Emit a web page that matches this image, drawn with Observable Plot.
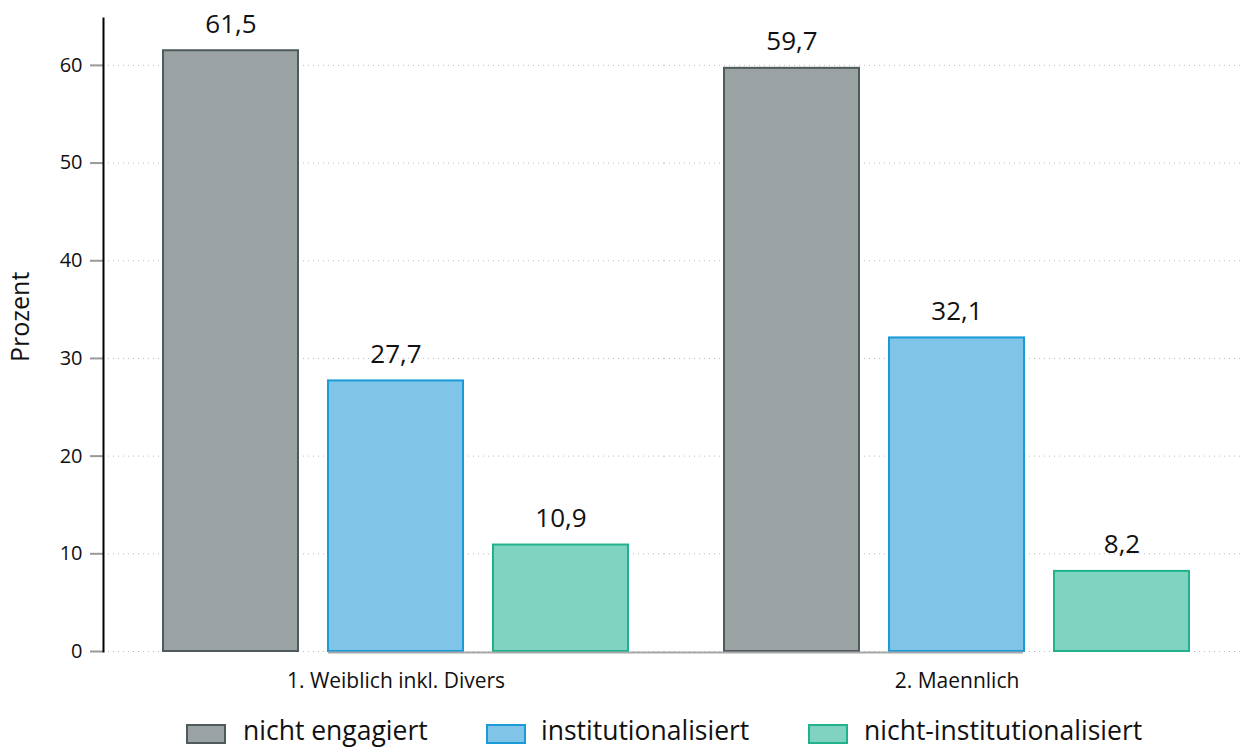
<!DOCTYPE html>
<html>
<head>
<meta charset="utf-8">
<script src="https://cdn.jsdelivr.net/npm/d3@7"></script>
<script src="https://cdn.jsdelivr.net/npm/@observablehq/plot@0.6"></script>
<style>
  html, body { margin: 0; padding: 0; background: #fff; overflow: hidden; }
  #wrap { position: relative; width: 1241px; height: 747px; font-family: "Open Sans", sans-serif; }
  .sw { position: absolute; top: 724px; width: 36px; height: 16px; border: 2px solid; }
  .lt { position: absolute; top: 713px; font-size: 26.5px; line-height: 34px; color: #111; white-space: nowrap; font-family: "Open Sans", sans-serif; }
</style>
</head>
<body>
<div id="wrap"></div>
<script>
const groups = ["1. Weiblich inkl. Divers", "2. Maennlich"];
const series = ["nicht engagiert", "institutionalisiert", "nicht-institutionalisiert"];
const weiblich = [61.5, 27.7, 10.9];
const maennlich = [59.7, 32.1, 8.2];
const yTicks = [0, 10, 20, 30, 40, 50, 60];
const fillColors = ["#9ba2a3", "#80c5e8", "#80d3c0"];
const strokeColors = ["#4f5a5c", "#1a9ad6", "#20b38b"];

const values = [weiblich, maennlich];
const data = [];
groups.forEach((g, gi) => series.forEach((s, si) => data.push({group: g, series: s, value: values[gi][si], si})));
const fmt = v => v.toFixed(1).replace(".", ",");

const chart = Plot.plot({
  width: 1241,
  height: 700,
  marginLeft: 103,
  marginRight: 16,
  marginTop: 18,
  marginBottom: 49,
  style: {fontFamily: "'Open Sans', sans-serif", color: "#111", background: "#fff"},
  fx: {domain: groups, padding: 0, axis: null, label: null},
  x: {domain: series, paddingInner: 0.181, paddingOuter: 0.2835, align: 0.628, axis: null},
  y: {domain: [0, 64.8], axis: null},
  marks: [
    Plot.ruleY(yTicks, {y: d => d, fx: () => groups[0], stroke: "#bbb", strokeDasharray: "1,4"}),
    Plot.ruleY(yTicks, {y: d => d, fx: () => groups[1], stroke: "#bbb", strokeDasharray: "1,4", insetRight: -16}),
    Plot.barY(data, {fx: "group", x: "series", y: "value", fill: d => fillColors[d.si], stroke: d => strokeColors[d.si], strokeWidth: 2}),
    Plot.ruleY([0], {y: d => d, fx: () => groups[0], x1: () => series[1], x2: () => series[2], insetRight: -395, stroke: "#a8a8a8", strokeWidth: 2, dy: 1}),
    Plot.text(data, {fx: "group", x: "series", y: "value", text: d => fmt(d.value), dy: -18, lineAnchor: "bottom", fontSize: 26, fill: "#111"}),
    Plot.text(groups, {fx: d => d, x: () => series[1], y: () => 0, text: d => d, dy: 30, fontSize: 21, fill: "#111"}),
    Plot.axisY({ticks: yTicks, tickSize: 13, tickFormat: () => "", stroke: "#999", strokeWidth: 2, label: null}),
    Plot.text(yTicks, {fx: () => groups[0], y: d => d, text: d => String(d), frameAnchor: "left", textAnchor: "end", dx: -21, fontSize: 20, fill: "#111"}),
    Plot.frame({anchor: "left", facetAnchor: "left", stroke: "#000", strokeWidth: 2}),
    Plot.text(["Prozent"], {fx: () => groups[0], frameAnchor: "left", rotate: -90, dx: -83, dy: 27, fontSize: 25, fill: "#111", text: d => d})
  ]
});

const wrap = document.getElementById("wrap");
wrap.appendChild(chart);

const swLeft = [186, 486, 808];
const txLeft = [243, 541, 864];
series.forEach((s, i) => {
  const sw = document.createElement("div");
  sw.className = "sw";
  sw.style.left = swLeft[i] + "px";
  sw.style.background = fillColors[i];
  sw.style.borderColor = strokeColors[i];
  wrap.appendChild(sw);
  const t = document.createElement("div");
  t.className = "lt";
  t.style.left = txLeft[i] + "px";
  t.textContent = s;
  wrap.appendChild(t);
});
chart.style.position = "absolute";
chart.style.left = "0";
chart.style.top = "0";
</script>
</body>
</html>
